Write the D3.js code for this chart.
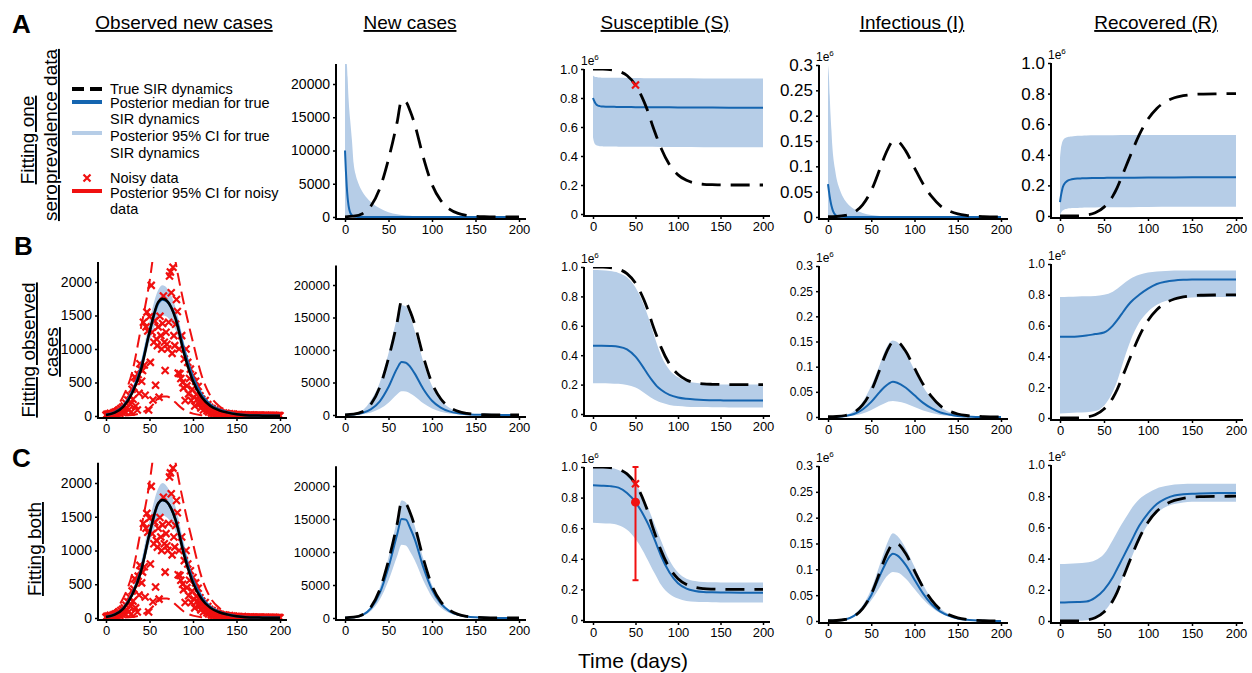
<!DOCTYPE html>
<html>
<head>
<meta charset="utf-8">
<script src="https://cdn.jsdelivr.net/npm/d3@7"></script>
<style>
body { margin: 0; background: #fff; }
text { font-family: "Liberation Sans", Arial, sans-serif; fill: #000; }
.axis path, .axis line { stroke: #000; stroke-width: 1.5; }
</style>
</head>
<body>
<script>
// ---------------- data ----------------
var days = [0,10,20,30,40,50,60,65,70,75,80,90,100,110,120,130,140,150,160,180,200];
var earlyDays = [0,1,2,3,4,5,6,8,10,12,15,20,25,30,40,50,60,80,100,130,160,200];
var xTicks = [0,50,100,150,200];

// true SIR dynamics (dashed black)
var trueNew = [30,120,500,1700,4300,8700,14300,17500,17300,15900,14000,9000,4900,2500,1200,550,250,110,50,10,2];
var trueS = [1.0,0.999,0.996,0.985,0.955,0.89,0.775,0.7,0.61,0.53,0.455,0.34,0.27,0.232,0.213,0.205,0.202,0.201,0.2,0.2,0.2];
var trueI = [0.0005,0.001,0.003,0.009,0.024,0.052,0.095,0.118,0.137,0.149,0.149,0.13,0.097,0.065,0.04,0.022,0.012,0.006,0.003,0.0008,0.0002];
var trueR = [0,0.0002,0.001,0.006,0.021,0.058,0.13,0.185,0.255,0.325,0.396,0.53,0.633,0.703,0.747,0.773,0.786,0.794,0.797,0.799,0.8];

// observed new cases (expected, black solid)
var obsTrue = [15,50,140,340,680,1250,1700,1750,1720,1620,1450,920,520,280,150,85,50,25,12,5,2];
// posterior 95% CI for noisy data (red dashed)
var noisyUp = [40,110,300,650,1300,2000,2900,3100,3000,2700,2300,1650,1100,600,300,150,80,50,40,30,25];
var noisyLo = [0,2,5,15,45,120,250,290,290,260,200,90,35,12,4,1,0,0,0,0,0];
// noisy data, one value per day 0..200
var noisyData = [10,25,5,30,15,40,20,35,10,50,
  30,60,25,70,45,90,40,110,60,130,
  80,150,60,190,120,240,90,310,180,60,
  400,250,430,580,150,560,90,620,340,780,
  700,520,680,1400,760,310,1330,1550,1270,90,
  1480,800,1950,1250,240,1100,1420,460,1150,1050,
  1330,280,1490,1200,1000,1380,1790,1100,680,1250,
  1070,1000,1400,2090,2150,1840,935,2220,1200,1050,
  1370,1740,1560,640,1000,630,560,1200,500,420,
  850,230,1000,450,800,330,560,700,230,400,
  600,280,150,520,320,250,440,180,300,120,
  250,200,90,160,230,140,80,170,60,130,
  90,50,110,70,40,90,55,30,70,45,
  60,25,50,35,20,45,30,15,40,25,
  30,10,35,20,15,30,10,25,15,20,
  10,18,8,22,12,5,15,20,8,12,
  6,14,10,4,12,8,15,5,10,6,
  12,4,8,10,3,9,6,11,5,7,
  4,8,6,3,9,5,7,2,6,4,
  8,3,5,7,2,6,4,5,3,6,4];

// serological sample
var seroDay = 50;
var seroValue = 0.89;
var seroEst = 0.77, seroLo = 0.26, seroHi = 1.0;

// ---- row A: fitting one seroprevalence data ----
var newMedA = [10000,7000,4600,2900,1800,1100,650,250,90,30,10,2,0,0,0,0,0,0,0,0,0,0];
var newUpA = [23000,23000,23000,21000,18000,16000,14500,11500,8000,6500,5200,3800,2900,2200,1300,700,400,120,40,10,2,0];
var newLoA = [0,0,0,0,0,0,0,0,0,0,0,0,0,0,0,0,0,0,0,0,0,0];
var SMedA = [0.80,0.785,0.772,0.762,0.755,0.75,0.747,0.744,0.742,0.741,0.74,0.739,0.739,0.738,0.738,0.737,0.737,0.736,0.735,0.734,0.733,0.732];
var SUpA = [0.955,0.95,0.947,0.945,0.944,0.943,0.942,0.941,0.94,0.94,0.94,0.939,0.939,0.939,0.938,0.938,0.937,0.937,0.936,0.935,0.935,0.934];
var SLoA = [0.53,0.50,0.485,0.478,0.474,0.472,0.47,0.468,0.467,0.466,0.466,0.465,0.465,0.464,0.464,0.463,0.463,0.462,0.462,0.461,0.46,0.46];
var IMedA = [0.065,0.052,0.04,0.03,0.022,0.016,0.011,0.005,0.002,0.001,0.0003,0,0,0,0,0,0,0,0,0,0,0];
var IUpA = [0.3,0.28,0.24,0.2,0.17,0.14,0.12,0.095,0.075,0.062,0.048,0.032,0.022,0.016,0.008,0.004,0.002,0.0005,0,0,0,0];
var ILoA = [0,0,0,0,0,0,0,0,0,0,0,0,0,0,0,0,0,0,0,0,0,0];
var RMedA = [0.09,0.13,0.16,0.185,0.2,0.21,0.218,0.228,0.234,0.238,0.242,0.245,0.246,0.247,0.248,0.249,0.25,0.25,0.251,0.252,0.253,0.254];
var RUpA = [0.38,0.44,0.47,0.49,0.5,0.506,0.51,0.515,0.518,0.52,0.522,0.524,0.525,0.526,0.527,0.528,0.528,0.529,0.53,0.53,0.53,0.53];
var RLoA = [0.0,0.02,0.03,0.036,0.04,0.043,0.045,0.048,0.05,0.051,0.052,0.053,0.054,0.055,0.056,0.057,0.058,0.058,0.059,0.06,0.06,0.06];

// ---- row B: fitting observed cases ----
var obsMedB = [18,55,150,360,720,1250,1680,1740,1710,1620,1470,980,580,320,170,95,55,28,14,6,2];
var obsUpB = [22,65,170,400,800,1420,1880,1950,1910,1800,1620,1080,640,350,190,105,60,32,16,7,3];
var obsLoB = [14,45,130,320,640,1100,1450,1500,1480,1400,1280,860,500,280,150,82,48,24,12,5,2];
var newMedB = [20,80,300,900,2100,4300,7200,8150,8050,7400,6400,4000,2200,1150,550,250,110,50,20,5,0];
var newUpB = [50,200,700,2300,5000,9500,15000,16900,16700,15200,13000,8200,4500,2300,1100,500,220,100,40,10,0];
var newLoB = [10,40,140,400,950,1900,3200,3650,3600,3300,2900,1800,1000,500,250,110,50,20,8,2,0];
var SMedB = [0.465,0.465,0.463,0.458,0.44,0.39,0.31,0.265,0.225,0.19,0.165,0.13,0.112,0.103,0.098,0.095,0.094,0.093,0.092,0.092,0.092];
var SUpB = [0.98,0.978,0.972,0.96,0.93,0.86,0.74,0.66,0.57,0.48,0.40,0.3,0.25,0.225,0.212,0.206,0.203,0.201,0.2,0.2,0.2];
var SLoB = [0.21,0.21,0.208,0.205,0.198,0.18,0.145,0.125,0.105,0.09,0.078,0.062,0.054,0.05,0.048,0.047,0.046,0.046,0.045,0.045,0.045];
var IMedB = [0,0.0005,0.002,0.006,0.015,0.03,0.05,0.059,0.066,0.07,0.068,0.058,0.043,0.028,0.017,0.009,0.005,0.002,0.001,0,0];
var IUpB = [0,0.001,0.004,0.012,0.03,0.062,0.105,0.128,0.145,0.152,0.149,0.126,0.093,0.06,0.036,0.02,0.01,0.005,0.002,0.0005,0];
var ILoB = [0,0.0002,0.001,0.003,0.007,0.014,0.023,0.027,0.031,0.032,0.031,0.027,0.02,0.013,0.008,0.004,0.002,0.001,0.0005,0,0];
var RMedB = [0.527,0.528,0.53,0.535,0.545,0.555,0.6,0.635,0.675,0.715,0.75,0.8,0.84,0.87,0.885,0.893,0.897,0.899,0.9,0.9,0.9];
var RUpB = [0.785,0.787,0.789,0.79,0.792,0.8,0.82,0.84,0.862,0.885,0.905,0.93,0.945,0.952,0.955,0.957,0.958,0.958,0.958,0.958,0.958];
var RLoB = [0.03,0.032,0.035,0.038,0.045,0.08,0.17,0.24,0.33,0.42,0.5,0.62,0.69,0.735,0.76,0.772,0.778,0.782,0.784,0.785,0.785];

// ---- row C: fitting both ----
var obsMedC = [17,52,145,350,700,1240,1690,1750,1720,1620,1460,960,560,310,165,92,52,27,13,6,2];
var obsUpC = [21,63,170,400,810,1440,1920,2000,1950,1830,1640,1090,650,355,190,105,60,32,16,7,3];
var obsLoC = [14,44,128,318,630,1100,1460,1520,1490,1410,1280,860,500,280,150,82,48,24,12,5,2];
var newMedC = [30,120,450,1500,3800,7700,12700,15000,14900,13600,12000,7700,4300,2200,1050,480,220,100,45,10,0];
var newUpC = [35,150,560,1850,4600,9200,15000,17800,17500,16000,14000,9000,5000,2600,1250,570,260,120,55,12,0];
var newLoC = [20,90,330,1100,2800,5700,9400,11100,11000,10000,8800,5700,3200,1600,770,350,160,70,30,7,0];
var SMedC = [0.88,0.878,0.875,0.865,0.83,0.77,0.68,0.625,0.56,0.49,0.42,0.31,0.24,0.205,0.19,0.183,0.181,0.18,0.179,0.178,0.178];
var SUpC = [1.0,0.999,0.995,0.98,0.95,0.89,0.79,0.73,0.66,0.59,0.52,0.39,0.31,0.27,0.255,0.248,0.246,0.245,0.245,0.245,0.245];
var SLoC = [0.635,0.633,0.63,0.62,0.59,0.53,0.44,0.385,0.33,0.28,0.23,0.17,0.14,0.125,0.12,0.117,0.116,0.115,0.115,0.115,0.115];
var IMedC = [0.0005,0.001,0.003,0.01,0.025,0.05,0.088,0.106,0.122,0.13,0.127,0.108,0.08,0.053,0.032,0.018,0.01,0.005,0.0025,0.0006,0.0001];
var IUpC = [0.0008,0.0015,0.004,0.012,0.03,0.062,0.11,0.135,0.157,0.17,0.165,0.14,0.105,0.07,0.042,0.024,0.013,0.007,0.003,0.0008,0.0002];
var ILoC = [0.0003,0.0008,0.0025,0.008,0.02,0.04,0.066,0.08,0.09,0.095,0.094,0.082,0.062,0.042,0.026,0.015,0.008,0.004,0.002,0.0005,0.0001];
var RMedC = [0.118,0.12,0.122,0.125,0.15,0.2,0.28,0.335,0.39,0.445,0.5,0.61,0.69,0.75,0.785,0.805,0.812,0.816,0.818,0.82,0.82];
var RUpC = [0.365,0.367,0.37,0.375,0.39,0.43,0.52,0.57,0.62,0.665,0.71,0.78,0.82,0.85,0.865,0.875,0.878,0.88,0.88,0.88,0.88];
var RLoC = [0,0,0.001,0.005,0.02,0.06,0.14,0.2,0.26,0.325,0.39,0.52,0.62,0.69,0.73,0.75,0.76,0.765,0.765,0.765,0.765];

var colTitles = ["Observed new cases", "New cases", "Susceptible (S)", "Infectious (I)", "Recovered (R)"];

// ---------------- layout ----------------
var blue = "#1565b0", band = "#b6cde7", red = "#f01010";

var cols = [
  {ax: 98, x0: 106, x1: 280, title: 184},
  {ax: 336, x0: 345, x1: 519, title: 410},
  {ax: 584, x0: 593, x1: 763, title: 665},
  {ax: 819, x0: 828, x1: 1001, title: 912},
  {ax: 1051, x0: 1060, x1: 1236, title: 1156}
];

var fmt1 = function(d) { return d === 0 ? "0" : d.toFixed(1); };
var fmt2 = function(d) { return d === 0 ? "0" : String(+d.toFixed(2)); };
var kinds = {
  obs: {ticks: [0,500,1000,1500,2000], fmt: d3.format("d"), max: 2000, top: 2300},
  newc: {ticks: [0,5000,10000,15000,20000], fmt: d3.format("d"), max: 20000, top: 23000},
  S: {ticks: [0,0.2,0.4,0.6,0.8,1], fmt: fmt1, max: 1, top: 1, e6: true},
  I: {ticks: [0,0.05,0.1,0.15,0.2,0.25,0.3], fmt: fmt2, max: 0.3, top: 0.3, e6: true},
  R: {ticks: [0,0.2,0.4,0.6,0.8,1], fmt: fmt1, max: 1, top: 1, e6: true}
};

var panels = [
  {col: 1, kind: "newc", y0: 217, yMax: 84, fs: 14, xs: earlyDays, lo: newLoA, up: newUpA, med: newMedA, tru: trueNew},
  {col: 2, kind: "S", y0: 214, yMax: 69, fs: 13, xs: earlyDays, lo: SLoA, up: SUpA, med: SMedA, tru: trueS, seroX: true},
  {col: 3, kind: "I", y0: 217, yMax: 65, fs: 17, xs: earlyDays, lo: ILoA, up: IUpA, med: IMedA, tru: trueI},
  {col: 4, kind: "R", y0: 216, yMax: 63, fs: 17, xs: earlyDays, lo: RLoA, up: RUpA, med: RMedA, tru: trueR},

  {col: 0, kind: "obs", y0: 416, yMax: 282, fs: 14, xs: days, lo: obsLoB, up: obsUpB, med: obsMedB, tru: obsTrue, noisy: true},
  {col: 1, kind: "newc", y0: 415, yMax: 285, fs: 13, xs: days, lo: newLoB, up: newUpB, med: newMedB, tru: trueNew},
  {col: 2, kind: "S", y0: 414, yMax: 267, fs: 12, xs: days, lo: SLoB, up: SUpB, med: SMedB, tru: trueS},
  {col: 3, kind: "I", y0: 417, yMax: 266, fs: 12, xs: days, lo: ILoB, up: IUpB, med: IMedB, tru: trueI},
  {col: 4, kind: "R", y0: 418, yMax: 264, fs: 12, xs: days, lo: RLoB, up: RUpB, med: RMedB, tru: trueR},

  {col: 0, kind: "obs", y0: 618, yMax: 483, fs: 14, xs: days, lo: obsLoC, up: obsUpC, med: obsMedC, tru: obsTrue, noisy: true},
  {col: 1, kind: "newc", y0: 618, yMax: 486, fs: 13, xs: days, lo: newLoC, up: newUpC, med: newMedC, tru: trueNew},
  {col: 2, kind: "S", y0: 620, yMax: 467, fs: 12, xs: days, lo: SLoC, up: SUpC, med: SMedC, tru: trueS, seroX: true, seroBar: true},
  {col: 3, kind: "I", y0: 621, yMax: 466, fs: 12, xs: days, lo: ILoC, up: IUpC, med: IMedC, tru: trueI},
  {col: 4, kind: "R", y0: 621, yMax: 465, fs: 12, xs: days, lo: RLoC, up: RUpC, med: RMedC, tru: trueR}
];

var svg = d3.select("body").append("svg")
  .attr("width", 1252)
  .attr("height", 673);

var defs = svg.append("defs");

var xMark = "M-3.5,-3.5L3.5,3.5M-3.5,3.5L3.5,-3.5";

panels.forEach(function(p, i) {
  var c = cols[p.col], k = kinds[p.kind];
  var x = d3.scaleLinear().domain([0, 200]).range([c.x0, c.x1]);
  var y = d3.scaleLinear().domain([0, k.max]).range([p.y0, p.yMax]);
  var yTop = y(k.top);
  var base = p.y0 + 2;
  var g = svg.append("g");

  defs.append("clipPath").attr("id", "clip" + i)
    .append("rect")
    .attr("x", c.ax + 1).attr("y", yTop)
    .attr("width", c.x1 + 10 - c.ax).attr("height", base - yTop);

  var plot = g.append("g").attr("clip-path", "url(#clip" + i + ")");

  var area = d3.area()
    .x(function(d) { return x(d[0]); })
    .y0(function(d) { return y(d[1]); })
    .y1(function(d) { return y(d[2]); })
    .curve(d3.curveMonotoneX);
  var line = d3.line()
    .x(function(d) { return x(d[0]); })
    .y(function(d) { return y(d[1]); })
    .curve(d3.curveMonotoneX);

  plot.append("path")
    .datum(d3.zip(p.xs, p.lo, p.up))
    .attr("d", area)
    .attr("fill", band);

  if (p.noisy) {
    var xs = d3.range(noisyData.length);
    plot.selectAll(".nx")
      .data(d3.zip(xs, noisyData))
      .enter().append("path")
      .attr("transform", function(d) { return "translate(" + x(d[0]) + "," + y(d[1]) + ")"; })
      .attr("d", xMark)
      .attr("stroke", red)
      .attr("stroke-width", 2.2);
    [noisyUp, noisyLo].forEach(function(arr) {
      plot.append("path")
        .datum(d3.zip(days, arr))
        .attr("d", line)
        .attr("fill", "none")
        .attr("stroke", red)
        .attr("stroke-width", 2)
        .attr("stroke-dasharray", "13,6");
    });
    plot.append("path")
      .datum(d3.zip(p.xs, p.med))
      .attr("d", line)
      .attr("fill", "none")
      .attr("stroke", blue)
      .attr("stroke-width", 2.5);
    plot.append("path")
      .datum(d3.zip(days, p.tru))
      .attr("d", line)
      .attr("fill", "none")
      .attr("stroke", "#000")
      .attr("stroke-width", 2.5);
  } else {
    plot.append("path")
      .datum(d3.zip(p.xs, p.med))
      .attr("d", line)
      .attr("fill", "none")
      .attr("stroke", blue)
      .attr("stroke-width", 2);
    plot.append("path")
      .datum(d3.zip(days, p.tru))
      .attr("d", line)
      .attr("fill", "none")
      .attr("stroke", "#000")
      .attr("stroke-width", 2.8)
      .attr("stroke-dasharray", "19,10");
  }

  if (p.seroBar) {
    g.append("line")
      .attr("x1", x(seroDay)).attr("x2", x(seroDay))
      .attr("y1", y(seroLo)).attr("y2", y(seroHi))
      .attr("stroke", red).attr("stroke-width", 2);
    [seroLo, seroHi].forEach(function(v) {
      g.append("line")
        .attr("x1", x(seroDay) - 3).attr("x2", x(seroDay) + 3)
        .attr("y1", y(v)).attr("y2", y(v))
        .attr("stroke", red).attr("stroke-width", 2);
    });
    g.append("circle")
      .attr("cx", x(seroDay)).attr("cy", y(seroEst))
      .attr("r", 4.5).attr("fill", red);
  }
  if (p.seroX) {
    g.append("path")
      .attr("transform", "translate(" + x(seroDay) + "," + y(seroValue) + ")")
      .attr("d", xMark)
      .attr("stroke", red)
      .attr("stroke-width", 2.2);
  }

  // axes
  var ya = g.append("g").attr("class", "axis")
    .attr("transform", "translate(" + c.ax + ",0)")
    .call(d3.axisLeft(y).tickValues(k.ticks).tickFormat(k.fmt).tickSize(3).tickSizeOuter(0));
  ya.select(".domain").remove();
  ya.selectAll("text").style("font-size", p.fs + "px").style("font-family", "Liberation Sans, Arial");

  var xa = g.append("g").attr("class", "axis")
    .attr("transform", "translate(0," + base + ")")
    .call(d3.axisBottom(x).tickValues(xTicks).tickSize(3).tickSizeOuter(0));
  xa.select(".domain").remove();
  xa.selectAll("text").style("font-size", "13px").style("font-family", "Liberation Sans, Arial");

  g.append("line")
    .attr("x1", c.ax).attr("x2", c.ax)
    .attr("y1", yTop).attr("y2", base + 1)
    .attr("stroke", "#000").attr("stroke-width", 2);
  g.append("line")
    .attr("x1", c.ax - 1).attr("x2", c.x1 + 7)
    .attr("y1", base).attr("y2", base)
    .attr("stroke", "#000").attr("stroke-width", 2);

  if (k.e6) {
    var t = g.append("text")
      .attr("x", c.ax - 3).attr("y", yTop - 4)
      .style("font-size", "12px");
    t.append("tspan").text("1e");
    t.append("tspan").text("6").attr("dy", -5).style("font-size", "8px");
  }
});

// column titles
colTitles.forEach(function(s, i) {
  svg.append("text")
    .attr("x", cols[i].title).attr("y", 29)
    .attr("text-anchor", "middle")
    .style("font-size", "19px")
    .style("text-decoration", "underline")
    .text(s);
});

// panel letters
[["A", 12, 33], ["B", 14, 255], ["C", 12, 467]].forEach(function(d) {
  svg.append("text")
    .attr("x", d[1]).attr("y", d[2])
    .style("font-size", "26px").style("font-weight", "bold")
    .text(d[0]);
});

// row labels
[["Fitting one", 34, 140], ["seroprevalence data", 57, 135],
 ["Fitting observed", 35, 350], ["cases", 58, 352],
 ["Fitting both", 41, 549]].forEach(function(d) {
  svg.append("text")
    .attr("transform", "translate(" + d[1] + "," + d[2] + ") rotate(-90)")
    .attr("text-anchor", "middle")
    .style("font-size", "19px")
    .style("text-decoration", "underline")
    .text(d[0]);
});

// legend
var leg = svg.append("g");
leg.append("line").attr("x1", 72).attr("x2", 102).attr("y1", 89).attr("y2", 89)
  .attr("stroke", "#000").attr("stroke-width", 4).attr("stroke-dasharray", "12,6");
leg.append("line").attr("x1", 72).attr("x2", 102).attr("y1", 102).attr("y2", 102)
  .attr("stroke", blue).attr("stroke-width", 4);
leg.append("line").attr("x1", 72).attr("x2", 102).attr("y1", 133).attr("y2", 133)
  .attr("stroke", band).attr("stroke-width", 4);
leg.append("path").attr("transform", "translate(87,178)")
  .attr("d", xMark).attr("stroke", red).attr("stroke-width", 2.2);
leg.append("line").attr("x1", 72).attr("x2", 102).attr("y1", 191).attr("y2", 191)
  .attr("stroke", red).attr("stroke-width", 4);
[["True SIR dynamics", 94], ["Posterior median for true", 108], ["SIR dynamics", 124],
 ["Posterior 95% CI for true", 141], ["SIR dynamics", 158], ["Noisy data", 183],
 ["Posterior 95% CI for noisy", 198], ["data", 214]].forEach(function(d) {
  leg.append("text").attr("x", 110).attr("y", d[1])
    .style("font-size", "14.5px").text(d[0]);
});

// x label
svg.append("text")
  .attr("x", 633).attr("y", 668)
  .attr("text-anchor", "middle")
  .style("font-size", "21px")
  .text("Time (days)");
</script>
</body>
</html>
